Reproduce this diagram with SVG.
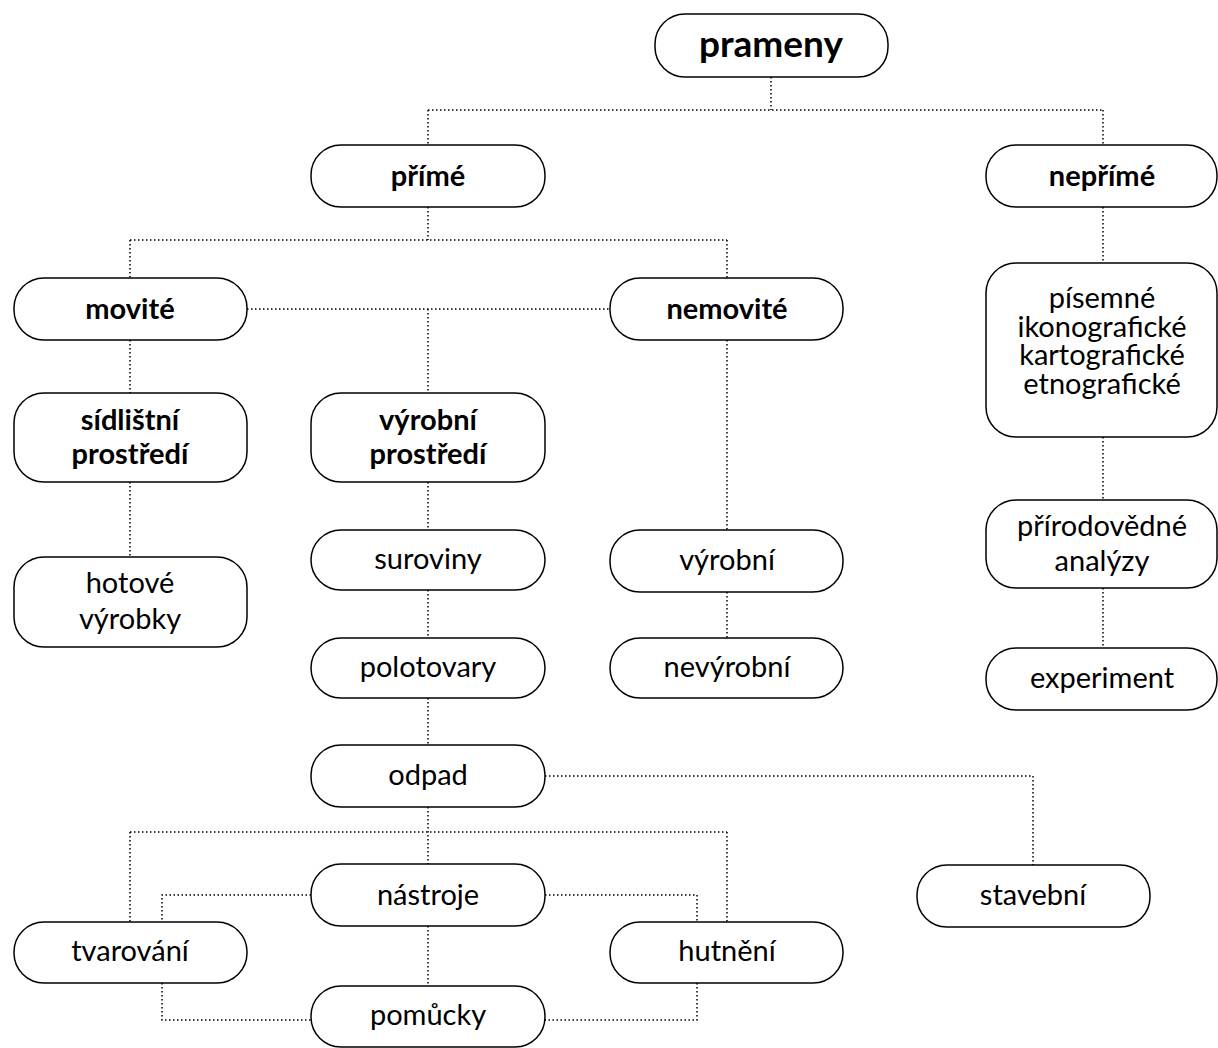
<svg xmlns="http://www.w3.org/2000/svg" width="1218" height="1048" viewBox="0 0 1218 1048">
<style>
.box{fill:#fff;stroke:#000;stroke-width:1.5}
.t{font-family:Lato,"Open Sans","Noto Sans",sans-serif;font-size:29px;fill:#000;text-anchor:middle}
.b{font-weight:bold}
.c{fill:none;stroke:#000;stroke-width:1.5;stroke-dasharray:1.5 2.5}
</style>
<rect width="1218" height="1048" fill="#fff"/>
<g id="connectors">
<path class="c" d="M771 77V110M428 110H1103M428 110V145M1103 110V145"/>
<path class="c" d="M428 207V240M130 240H727M130 240V278M727 240V278"/>
<path class="c" d="M247 309H610M428 309V393"/>
<path class="c" d="M130 340V393M130 482V557"/>
<path class="c" d="M428 482V530M428 590V638M428 698V745M428 807V864"/>
<path class="c" d="M130 832H727M130 832V922M727 832V922"/>
<path class="c" d="M545 776H1033V865"/>
<path class="c" d="M311 895H162V922M545 895H697V922"/>
<path class="c" d="M428 926V986"/>
<path class="c" d="M162 983V1020H311M697 983V1020H545"/>
<path class="c" d="M727 340V530M727 592V638"/>
<path class="c" d="M1103 207V263M1103 437V500M1103 588V648"/>
</g>
<g id="prameny"><rect class="box" x="655" y="14" width="233" height="63" rx="30"/><text class="t b" x="771" y="57" style="font-size:37px">prameny</text></g>
<g id="prime"><rect class="box" x="311" y="145" width="234" height="62" rx="30"/><text class="t b" x="428" y="186">přímé</text></g>
<g id="neprime"><rect class="box" x="986" y="145" width="231" height="62" rx="30"/><text class="t b" x="1102" y="186">nepřímé</text></g>
<g id="movite"><rect class="box" x="14" y="278" width="233" height="62" rx="30"/><text class="t b" x="130" y="319">movité</text></g>
<g id="nemovite"><rect class="box" x="610" y="278" width="233" height="62" rx="30"/><text class="t b" x="727" y="319">nemovité</text></g>
<g id="sidlistni"><rect class="box" x="14" y="393" width="233" height="89" rx="30"/><text class="t b" x="130" y="430">sídlištní</text><text class="t b" x="130" y="464">prostředí</text></g>
<g id="vyrobni-prostredi"><rect class="box" x="311" y="393" width="234" height="89" rx="30"/><text class="t b" x="428" y="430">výrobní</text><text class="t b" x="428" y="464">prostředí</text></g>
<g id="hotove"><rect class="box" x="14" y="557" width="233" height="90" rx="30"/><text class="t" x="130" y="593">hotové</text><text class="t" x="130" y="629">výrobky</text></g>
<g id="suroviny"><rect class="box" x="311" y="530" width="234" height="60" rx="30"/><text class="t" x="428" y="569">suroviny</text></g>
<g id="polotovary"><rect class="box" x="311" y="638" width="234" height="60" rx="30"/><text class="t" x="428" y="677">polotovary</text></g>
<g id="odpad"><rect class="box" x="311" y="745" width="234" height="62" rx="30"/><text class="t" x="428" y="785">odpad</text></g>
<g id="nastroje"><rect class="box" x="311" y="864" width="234" height="62" rx="30"/><text class="t" x="428" y="905">nástroje</text></g>
<g id="tvarovani"><rect class="box" x="14" y="922" width="233" height="61" rx="30"/><text class="t" x="130" y="961">tvarování</text></g>
<g id="hutneni"><rect class="box" x="610" y="922" width="233" height="61" rx="30"/><text class="t" x="727" y="961">hutnění</text></g>
<g id="pomucky"><rect class="box" x="311" y="986" width="234" height="61" rx="30"/><text class="t" x="428" y="1025">pomůcky</text></g>
<g id="stavebni"><rect class="box" x="917" y="865" width="233" height="62" rx="30"/><text class="t" x="1033" y="905">stavební</text></g>
<g id="vyrobni"><rect class="box" x="610" y="530" width="233" height="62" rx="30"/><text class="t" x="727" y="570">výrobní</text></g>
<g id="nevyrobni"><rect class="box" x="610" y="638" width="233" height="60" rx="30"/><text class="t" x="727" y="677">nevýrobní</text></g>
<g id="pisemne"><rect class="box" x="986" y="263" width="231" height="174" rx="30"/><text class="t" x="1102" y="308">písemné</text><text class="t" x="1102" y="337">ikonografické</text><text class="t" x="1102" y="365">kartografické</text><text class="t" x="1102" y="394">etnografické</text></g>
<g id="prirodovedne"><rect class="box" x="986" y="500" width="231" height="88" rx="30"/><text class="t" x="1102" y="536">přírodovědné</text><text class="t" x="1102" y="571">analýzy</text></g>
<g id="experiment"><rect class="box" x="986" y="648" width="231" height="62" rx="30"/><text class="t" x="1102" y="688">experiment</text></g>
</svg>
